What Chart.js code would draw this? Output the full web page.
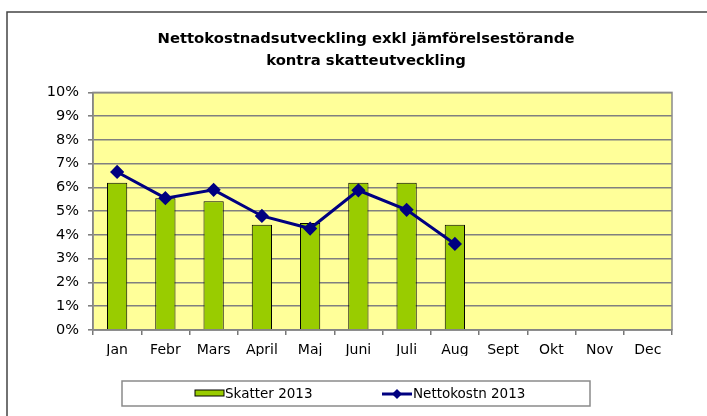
<!DOCTYPE html>
<html>
<head>
<meta charset="utf-8">
<script src="https://cdn.jsdelivr.net/npm/chart.js@4"></script>
<style>
  html, body { margin: 0; padding: 0; background: #fff; }
  #wrap { width: 707px; height: 416px; }
</style>
</head>
<body>
<div id="wrap"><canvas id="chart" width="707" height="416"></canvas></div>
<script>
const months = ['Jan', 'Febr', 'Mars', 'April', 'Maj', 'Juni', 'Juli', 'Aug', 'Sept', 'Okt', 'Nov', 'Dec'];
const skatter = [6.2, 5.55, 5.42, 4.43, 4.5, 6.2, 6.2, 4.43, null, null, null, null];
const nettokostn = [6.65, 5.55, 5.9, 4.8, 4.27, 5.88, 5.06, 3.62, null, null, null, null];
const titleLines = ['Nettokostnadsutveckling exkl jämförelsestörande', 'kontra skatteutveckling'];

const FONT = "'DejaVu Sans', Verdana, sans-serif";

// frame, yellow plot area and the boxed legend
const decor = {
    id: 'decor',
    beforeDraw(chart) {
        const ctx = chart.ctx;
        const a = chart.chartArea;
        ctx.save();
        ctx.fillStyle = '#fff';
        ctx.fillRect(0, 0, chart.width, chart.height);
        ctx.strokeStyle = '#444';
        ctx.lineWidth = 1.5;
        ctx.beginPath();
        ctx.moveTo(7, chart.height + 5);
        ctx.lineTo(7, 12);
        ctx.lineTo(chart.width + 5, 12);
        ctx.stroke();
        ctx.fillStyle = '#ffff99';
        ctx.fillRect(a.left, a.top, a.right - a.left, a.bottom - a.top);
        ctx.restore();
    },
    afterDatasetsDraw(chart) {
        const ctx = chart.ctx;
        const a = chart.chartArea;
        ctx.save();
        ctx.strokeStyle = '#8a8a8a';
        ctx.lineWidth = 1.5;
        ctx.strokeRect(a.left, a.top, a.right - a.left, a.bottom - a.top);
        ctx.restore();
    },
    afterDraw(chart) {
        const ctx = chart.ctx;
        const ds = chart.data.datasets;
        ctx.save();
        ctx.strokeStyle = '#8a8a8a';
        ctx.lineWidth = 1.5;
        ctx.strokeRect(122, 381, 468, 25);
        ctx.font = '13.5px ' + FONT;
        ctx.textBaseline = 'middle';
        // bar entry
        ctx.fillStyle = ds[0].backgroundColor;
        ctx.fillRect(195, 390, 29, 6);
        ctx.strokeStyle = '#000';
        ctx.lineWidth = 1;
        ctx.strokeRect(195, 390, 29, 6);
        ctx.fillStyle = '#000';
        ctx.fillText(ds[0].label, 225, 394);
        // line entry
        ctx.strokeStyle = ds[1].borderColor;
        ctx.lineWidth = 3;
        ctx.beginPath();
        ctx.moveTo(382, 394);
        ctx.lineTo(412, 394);
        ctx.stroke();
        ctx.fillStyle = ds[1].borderColor;
        ctx.beginPath();
        ctx.moveTo(397, 389);
        ctx.lineTo(402, 394);
        ctx.lineTo(397, 399);
        ctx.lineTo(392, 394);
        ctx.closePath();
        ctx.fill();
        ctx.fillStyle = '#000';
        ctx.fillText(ds[1].label, 413, 394);
        ctx.restore();
    }
};

new Chart(document.getElementById('chart'), {
    type: 'bar',
    data: {
        labels: months,
        datasets: [{
            type: 'bar',
            label: 'Skatter 2013',
            data: skatter,
            backgroundColor: '#99cc00',
            borderColor: '#000',
            borderWidth: 1,
            barPercentage: 0.42,
            categoryPercentage: 1,
            order: 1
        }, {
            type: 'line',
            label: 'Nettokostn 2013',
            data: nettokostn,
            borderColor: '#000080',
            backgroundColor: '#000080',
            borderWidth: 3,
            pointStyle: 'rectRot',
            pointRadius: 5,
            pointHoverRadius: 5,
            tension: 0,
            order: 0
        }]
    },
    options: {
        responsive: false,
        animation: false,
        layout: { padding: { top: 0, right: 5, bottom: 60, left: 30 } },
        plugins: {
            legend: { display: false },
            tooltip: { enabled: false },
            title: {
                display: true,
                text: titleLines,
                color: '#000',
                font: { family: FONT, size: 14.8, weight: 'bold', lineHeight: 1.5 },
                padding: { top: 28, bottom: 20 }
            }
        },
        scales: {
            x: {
                offset: true,
                grid: { offset: true, drawOnChartArea: false, drawTicks: true, tickLength: 5, color: '#777', lineWidth: 1.5 },
                border: { color: '#777', width: 1.5 },
                ticks: { color: '#000', font: { family: FONT, size: 14 }, padding: 7, maxRotation: 0 },
                afterFit(scale) { scale.height = 26; }
            },
            y: {
                min: 0,
                max: 10,
                ticks: {
                    stepSize: 1,
                    color: '#000',
                    font: { family: FONT, size: 14.5 },
                    padding: 9,
                    callback: v => v + '%'
                },
                grid: { color: '#808080', lineWidth: 1.6, tickLength: 5 },
                border: { color: '#777', width: 1.5 },
                afterFit(scale) { scale.width = 63; }
            },
            // empty spacer on the right so the title centres like the original
            spacer: {
                position: 'right',
                display: true,
                grid: { display: false },
                border: { display: false },
                ticks: { display: false },
                afterFit(scale) { scale.width = 30; }
            }
        }
    },
    plugins: [decor]
});
</script>
</body>
</html>
